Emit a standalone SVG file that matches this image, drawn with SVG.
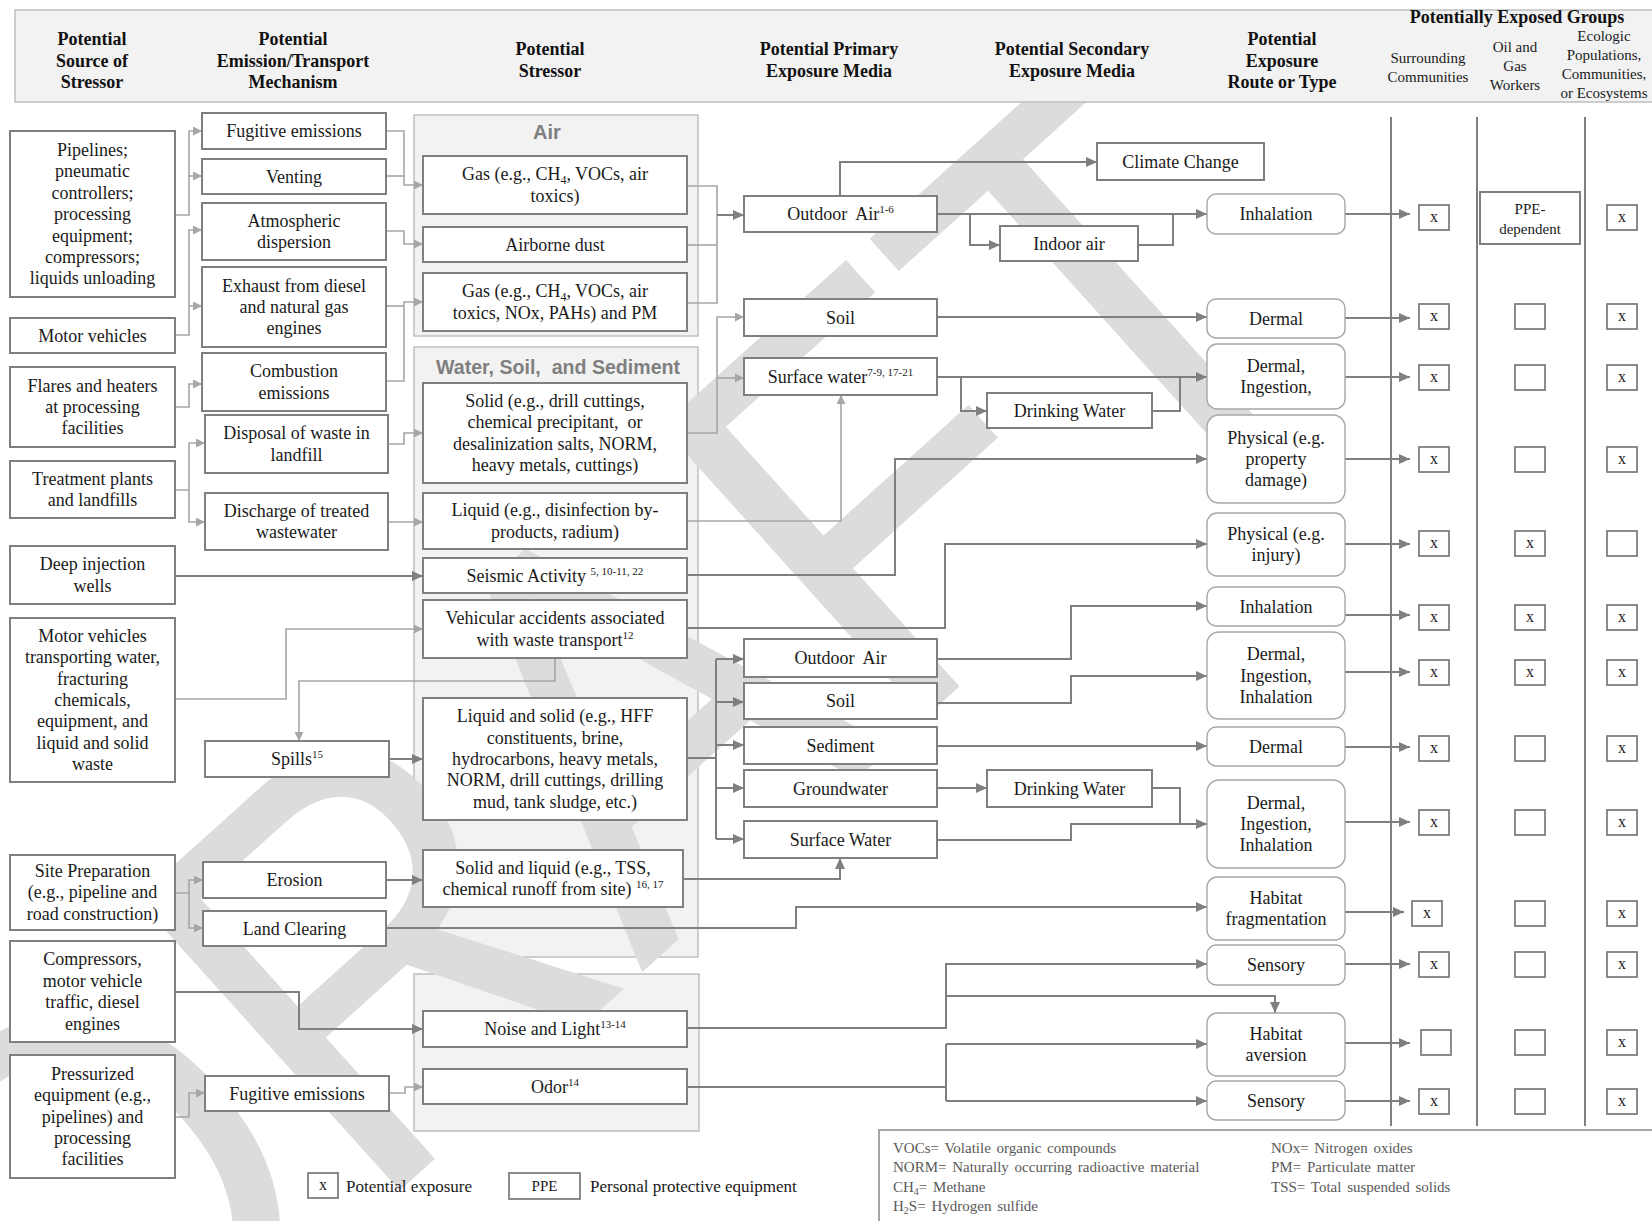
<svg xmlns="http://www.w3.org/2000/svg" width="1652" height="1221" viewBox="0 0 1652 1221">
<defs>
<style>
.box{fill:#fff;stroke:#7f7f7f;stroke-width:2}
.rb{fill:#fff;stroke:#a6a6a6;stroke-width:1.4}
.panel{fill:#f2f2f2;stroke:#bfbfbf;stroke-width:1.5}
.t{font-family:"Liberation Serif","Times New Roman",serif;font-size:18px;fill:#1a1a1a;text-anchor:middle}
.h{font-family:"Liberation Serif","Times New Roman",serif;font-size:18px;font-weight:bold;fill:#111;text-anchor:middle}
.hs{font-family:"Liberation Serif","Times New Roman",serif;font-size:15px;fill:#1a1a1a;text-anchor:middle}
.pt{font-family:"Liberation Sans",Arial,sans-serif;font-size:20px;font-weight:bold;fill:#7f7f7f;text-anchor:middle}
.cd{fill:none;stroke:#7f7f7f;stroke-width:2}
.cl{fill:none;stroke:#a6a6a6;stroke-width:1.6}
.ad{marker-end:url(#ad)}
.al{marker-end:url(#al)}
.chk{fill:#fff;stroke:#7f7f7f;stroke-width:1.8}
.x{font-family:"Liberation Serif","Times New Roman",serif;font-size:16px;fill:#1a1a1a;text-anchor:middle}
.ab{font-family:"Liberation Serif","Times New Roman",serif;font-size:15px;fill:#595959;word-spacing:2px}
.vl{stroke:#7f7f7f;stroke-width:2}
</style>
<marker id="ad" markerUnits="userSpaceOnUse" markerWidth="11" markerHeight="10" refX="11" refY="5" orient="auto"><path d="M0,0 L11,5 L0,10 z" fill="#7f7f7f"/></marker>
<marker id="al" markerUnits="userSpaceOnUse" markerWidth="9" markerHeight="9" refX="9" refY="4.5" orient="auto"><path d="M0,0 L9,4.5 L0,9 z" fill="#a6a6a6"/></marker>
</defs>
<rect width="1652" height="1221" fill="#fff"/>

<g id="panels">
<rect class="panel" x="414" y="115" width="284" height="221"/>
<rect class="panel" x="414" y="347" width="284" height="610"/>
<rect class="panel" x="414" y="974" width="285" height="157"/>
<text class="pt" x="547" y="139">Air</text>
<text class="pt" x="558" y="374" textLength="244" lengthAdjust="spacingAndGlyphs">Water, Soil,&#160; and Sediment</text>
<text class="pt" x="551" y="1000">Sensory</text>
</g>

<g id="watermark" transform="translate(96,1464) rotate(-42) scale(0.89,1)">
<text x="0" y="0" font-family="Liberation Sans, Arial, sans-serif" font-size="571" fill="#dcdcdc">DRAFT</text>
</g>

<g id="connectors">
<path class="cl al" d="M175,215 H189 V131 H202"/>
<path class="cl al" d="M189,176 H202"/>
<path class="cl al" d="M175,335 H189 V230 H202"/>
<path class="cl al" d="M189,306 H202"/>
<path class="cl al" d="M175,407 H189 V384 H202"/>
<path class="cl al" d="M175,490 H189 V443 H205"/>
<path class="cl al" d="M189,490 V522 H205"/>
<path class="cd ad" d="M175,576 H423"/>
<path class="cl al" d="M175,699 H286 V629 H423"/>
<path class="cl al" d="M555,658 V681 H299 V741"/>
<path class="cd ad" d="M389,759 H423"/>
<path class="cl al" d="M175,893 H189 V880 H203"/>
<path class="cl al" d="M189,893 V928 H203"/>
<path class="cd ad" d="M175,992 H299 V1029 H423"/>
<path class="cl al" d="M175,1117 H189 V1093 H205"/>
<path class="cl al" d="M389,1093 H405 V1087 H423"/>
<path class="cd ad" d="M386,880 H423"/>

<path class="cl al" d="M386,131 H404 V185 H423"/>
<path class="cl" d="M386,176 H404"/>
<path class="cl al" d="M386,231 H404 V244 H423"/>
<path class="cl al" d="M386,381 H404 V302 H423"/>
<path class="cl" d="M386,306 H404"/>
<path class="cl al" d="M388,444 H404 V433 H423"/>
<path class="cl al" d="M388,522 H423"/>

<path class="cl" d="M687,186 H717 V303 H687"/>
<path class="cl" d="M687,245 H717"/>
<path class="cd ad" d="M717,215 H744"/>
<path class="cl al" d="M687,433 H717 V317 H744"/>
<path class="cl al" d="M717,378 H744"/>
<path class="cl al" d="M687,521 H841 V395"/>
<path class="cd ad" d="M687,575 H895 V459 H1207"/>
<path class="cd ad" d="M687,628 H945 V544 H1207"/>
<path class="cd" d="M687,758 H716 M716,659 V839"/>
<path class="cd ad" d="M716,659 H744"/>
<path class="cd ad" d="M716,702 H744"/>
<path class="cd ad" d="M716,745 H744"/>
<path class="cd ad" d="M716,788 H744"/>
<path class="cd ad" d="M716,839 H744"/>
<path class="cd ad" d="M683,879 H840 V858"/>
<path class="cd ad" d="M386,928 H796 V907 H1207"/>
<path class="cd ad" d="M687,1028 H946 V964 H1207"/>
<path class="cd ad" d="M946,996 H1275 V1013"/>
<path class="cd" d="M687,1087 H946 M946,1044 V1101"/>
<path class="cd ad" d="M946,1044 H1207"/>
<path class="cd ad" d="M946,1101 H1207"/>

<path class="cd ad" d="M840,196 V162 H1097"/>
<path class="cd ad" d="M937,214 H1207"/>
<path class="cd ad" d="M970,214 V245 H1000"/>
<path class="cd" d="M1138,245 H1173 V214"/>
<path class="cd ad" d="M937,317 H1207"/>
<path class="cd ad" d="M937,377 H1207"/>
<path class="cd ad" d="M961,377 V411 H987"/>
<path class="cd" d="M1152,411 H1180 V377"/>
<path class="cd ad" d="M937,659 H1071 V606 H1207"/>
<path class="cd ad" d="M937,703 H1071 V676 H1207"/>
<path class="cd ad" d="M937,746 H1207"/>
<path class="cd ad" d="M937,788 H987"/>
<path class="cd ad" d="M1152,788 H1180 V824 H1207"/>
<path class="cd" d="M937,840 H1071 V824 H1180"/>

<path class="cd ad" d="M1345,214 H1410"/>
<path class="cd ad" d="M1345,318 H1410"/>
<path class="cd ad" d="M1345,377 H1410"/>
<path class="cd ad" d="M1345,459 H1410"/>
<path class="cd ad" d="M1345,544 H1410"/>
<path class="cd ad" d="M1345,615 H1410"/>
<path class="cd ad" d="M1345,672 H1410"/>
<path class="cd ad" d="M1345,747 H1410"/>
<path class="cd ad" d="M1345,822 H1410"/>
<path class="cd ad" d="M1345,912 H1404"/>
<path class="cd ad" d="M1345,964 H1410"/>
<path class="cd ad" d="M1345,1043 H1410"/>
<path class="cd ad" d="M1345,1101 H1410"/>
</g>

<g id="dividers">
<line class="vl" x1="1391" y1="117" x2="1391" y2="1126"/>
<line class="vl" x1="1477" y1="117" x2="1477" y2="1126"/>
<line class="vl" x1="1585" y1="117" x2="1585" y2="1126"/>
</g>

<g id="sources">
<g id="s1"><rect class="box" x="10" y="131" width="165" height="166"/><text class="t" x="92.5" y="156">Pipelines;<tspan x="92.5" dy="21.4">pneumatic</tspan><tspan x="92.5" dy="21.4">controllers;</tspan><tspan x="92.5" dy="21.4">processing</tspan><tspan x="92.5" dy="21.4">equipment;</tspan><tspan x="92.5" dy="21.4">compressors;</tspan><tspan x="92.5" dy="21.4">liquids unloading</tspan></text></g>
<g id="s2"><rect class="box" x="10" y="318" width="165" height="35"/><text class="t" x="92.5" y="341.5">Motor vehicles</text></g>
<g id="s3"><rect class="box" x="10" y="367" width="165" height="80"/><text class="t" x="92.5" y="391.6">Flares and heaters<tspan x="92.5" dy="21.4">at processing</tspan><tspan x="92.5" dy="21.4">facilities</tspan></text></g>
<g id="s4"><rect class="box" x="10" y="461" width="165" height="57"/><text class="t" x="92.5" y="484.8">Treatment plants<tspan x="92.5" dy="21.4">and landfills</tspan></text></g>
<g id="s5"><rect class="box" x="10" y="546" width="165" height="58"/><text class="t" x="92.5" y="570.3">Deep injection<tspan x="92.5" dy="21.4">wells</tspan></text></g>
<g id="s6"><rect class="box" x="10" y="618" width="165" height="164"/><text class="t" x="92.5" y="641.8">Motor vehicles<tspan x="92.5" dy="21.4">transporting water,</tspan><tspan x="92.5" dy="21.4">fracturing</tspan><tspan x="92.5" dy="21.4">chemicals,</tspan><tspan x="92.5" dy="21.4">equipment, and</tspan><tspan x="92.5" dy="21.4">liquid and solid</tspan><tspan x="92.5" dy="21.4">waste</tspan></text></g>
<g id="s7"><rect class="box" x="10" y="855" width="165" height="75"/><text class="t" x="92.5" y="877">Site Preparation<tspan x="92.5" dy="21.4">(e.g., pipeline and</tspan><tspan x="92.5" dy="21.4">road construction)</tspan></text></g>
<g id="s8"><rect class="box" x="10" y="941" width="165" height="101"/><text class="t" x="92.5" y="965.4">Compressors,<tspan x="92.5" dy="21.4">motor vehicle</tspan><tspan x="92.5" dy="21.4">traffic, diesel</tspan><tspan x="92.5" dy="21.4">engines</tspan></text></g>
<g id="s9"><rect class="box" x="10" y="1055" width="165" height="123"/><text class="t" x="92.5" y="1079.7">Pressurized<tspan x="92.5" dy="21.4">equipment (e.g.,</tspan><tspan x="92.5" dy="21.4">pipelines) and</tspan><tspan x="92.5" dy="21.4">processing</tspan><tspan x="92.5" dy="21.4">facilities</tspan></text></g>
</g>

<g id="mechanisms">
<g id="m1"><rect class="box" x="202" y="113" width="184" height="36"/><text class="t" x="294" y="137">Fugitive emissions</text></g>
<g id="m2"><rect class="box" x="202" y="159" width="184" height="35"/><text class="t" x="294" y="182.5">Venting</text></g>
<g id="m3"><rect class="box" x="202" y="203" width="184" height="57"/><text class="t" x="294" y="226.8">Atmospheric<tspan x="294" dy="21.4">dispersion</tspan></text></g>
<g id="m4"><rect class="box" x="202" y="267" width="184" height="80"/><text class="t" x="294" y="291.6">Exhaust from diesel<tspan x="294" dy="21.4">and natural gas</tspan><tspan x="294" dy="21.4">engines</tspan></text></g>
<g id="m5"><rect class="box" x="202" y="353" width="184" height="58"/><text class="t" x="294" y="377.3">Combustion<tspan x="294" dy="21.4">emissions</tspan></text></g>
<g id="m6"><rect class="box" x="205" y="415" width="183" height="58"/><text class="t" x="296.5" y="439.3">Disposal of waste in<tspan x="296.5" dy="21.4">landfill</tspan></text></g>
<g id="m7"><rect class="box" x="205" y="493" width="183" height="57"/><text class="t" x="296.5" y="516.8">Discharge of treated<tspan x="296.5" dy="21.4">wastewater</tspan></text></g>
<g id="m8"><rect class="box" x="205" y="741" width="184" height="36"/><text class="t" x="297" y="765">Spills<tspan font-size="11" dy="-7">15</tspan></text></g>
<g id="m9"><rect class="box" x="203" y="862" width="183" height="36"/><text class="t" x="294.5" y="886">Erosion</text></g>
<g id="m10"><rect class="box" x="203" y="911" width="183" height="35"/><text class="t" x="294.5" y="934.5">Land Clearing</text></g>
<g id="m11"><rect class="box" x="205" y="1076" width="184" height="35"/><text class="t" x="297" y="1099.5">Fugitive emissions</text></g>
</g>

<g id="stressors">
<g id="p1"><rect class="box" x="423" y="156" width="264" height="58"/><text class="t" x="555" y="180.3">Gas (e.g., CH<tspan font-size="12" dy="4">4</tspan><tspan dy="-4">, VOCs, air</tspan><tspan x="555" dy="21.4">toxics)</tspan></text></g>
<g id="p2"><rect class="box" x="423" y="227" width="264" height="35"/><text class="t" x="555" y="250.5">Airborne dust</text></g>
<g id="p3"><rect class="box" x="423" y="273" width="264" height="58"/><text class="t" x="555" y="297.3">Gas (e.g., CH<tspan font-size="12" dy="4">4</tspan><tspan dy="-4">, VOCs, air</tspan><tspan x="555" dy="21.4">toxics, NOx, PAHs) and PM</tspan></text></g>
<g id="p4"><rect class="box" x="423" y="383" width="264" height="100"/><text class="t" x="555" y="406.9">Solid (e.g., drill cuttings,<tspan x="555" dy="21.4">chemical precipitant,&#160; or</tspan><tspan x="555" dy="21.4">desalinization salts, NORM,</tspan><tspan x="555" dy="21.4">heavy metals, cuttings)</tspan></text></g>
<g id="p5"><rect class="box" x="423" y="493" width="264" height="56"/><text class="t" x="555" y="516.3">Liquid (e.g., disinfection by-<tspan x="555" dy="21.4">products, radium)</tspan></text></g>
<g id="p6"><rect class="box" x="423" y="558" width="264" height="35"/><text class="t" x="555" y="581.5">Seismic Activity <tspan font-size="11" dy="-7">5, 10-11, 22</tspan></text></g>
<g id="p7"><rect class="box" x="423" y="600" width="264" height="58"/><text class="t" x="555" y="624.3">Vehicular accidents associated<tspan x="555" dy="21.4">with waste transport</tspan><tspan font-size="11" dy="-7">12</tspan></text></g>
<g id="p8"><rect class="box" x="423" y="698" width="264" height="122"/><text class="t" x="555" y="722.2">Liquid and solid (e.g., HFF<tspan x="555" dy="21.4">constituents, brine,</tspan><tspan x="555" dy="21.4">hydrocarbons, heavy metals,</tspan><tspan x="555" dy="21.4">NORM, drill cuttings, drilling</tspan><tspan x="555" dy="21.4">mud, tank sludge, etc.)</tspan></text></g>
<g id="p9"><rect class="box" x="423" y="850" width="260" height="57"/><text class="t" x="553" y="873.8">Solid and liquid (e.g., TSS,<tspan x="553" dy="21.4">chemical runoff from site) </tspan><tspan font-size="11" dy="-7">16, 17</tspan></text></g>
<g id="p10"><rect class="box" x="423" y="1011" width="264" height="36"/><text class="t" x="555" y="1035">Noise and Light<tspan font-size="11" dy="-7">13-14</tspan></text></g>
<g id="p11"><rect class="box" x="423" y="1069" width="264" height="35"/><text class="t" x="555" y="1092.5">Odor<tspan font-size="11" dy="-7">14</tspan></text></g>
</g>

<g id="primary">
<g id="q1"><rect class="box" x="744" y="196" width="193" height="36"/><text class="t" x="840.5" y="220">Outdoor&#160; Air<tspan font-size="11" dy="-7">1-6</tspan></text></g>
<g id="q2"><rect class="box" x="744" y="299" width="193" height="37"/><text class="t" x="840.5" y="323.5">Soil</text></g>
<g id="q3"><rect class="box" x="744" y="358" width="193" height="37"/><text class="t" x="840.5" y="382.5">Surface water<tspan font-size="11" dy="-7">7-9, 17-21</tspan></text></g>
<g id="q4"><rect class="box" x="744" y="639" width="193" height="38"/><text class="t" x="840.5" y="664">Outdoor&#160; Air</text></g>
<g id="q5"><rect class="box" x="744" y="683" width="193" height="36"/><text class="t" x="840.5" y="707">Soil</text></g>
<g id="q6"><rect class="box" x="744" y="727" width="193" height="37"/><text class="t" x="840.5" y="751.5">Sediment</text></g>
<g id="q7"><rect class="box" x="744" y="770" width="193" height="37"/><text class="t" x="840.5" y="794.5">Groundwater</text></g>
<g id="q8"><rect class="box" x="744" y="821" width="193" height="37"/><text class="t" x="840.5" y="845.5">Surface Water</text></g>
</g>

<g id="secondary">
<g id="cc"><rect class="box" x="1097" y="143" width="167" height="37"/><text class="t" x="1180.5" y="167.5">Climate Change</text></g>
<g id="ia"><rect class="box" x="1000" y="226" width="138" height="35"/><text class="t" x="1069" y="249.5">Indoor air</text></g>
<g id="dw1"><rect class="box" x="987" y="393" width="165" height="35"/><text class="t" x="1069.5" y="416.5">Drinking Water</text></g>
<g id="dw2"><rect class="box" x="987" y="770" width="165" height="37"/><text class="t" x="1069.5" y="794.5">Drinking Water</text></g>
</g>

<g id="routes">
<g id="r1"><rect class="rb" x="1207" y="194" width="138" height="40" rx="9"/><text class="t" x="1276" y="220">Inhalation</text></g>
<g id="r2"><rect class="rb" x="1207" y="299" width="138" height="39" rx="9"/><text class="t" x="1276" y="324.5">Dermal</text></g>
<g id="r3"><rect class="rb" x="1207" y="344" width="138" height="65" rx="10"/><text class="t" x="1276" y="371.8">Dermal,<tspan x="1276" dy="21.4">Ingestion,</tspan></text></g>
<g id="r4"><rect class="rb" x="1207" y="415" width="138" height="88" rx="12"/><text class="t" x="1276" y="443.6">Physical (e.g.<tspan x="1276" dy="21.4">property</tspan><tspan x="1276" dy="21.4">damage)</tspan></text></g>
<g id="r5"><rect class="rb" x="1207" y="513" width="138" height="63" rx="10"/><text class="t" x="1276" y="539.8">Physical (e.g.<tspan x="1276" dy="21.4">injury)</tspan></text></g>
<g id="r6"><rect class="rb" x="1207" y="587" width="138" height="39" rx="9"/><text class="t" x="1276" y="612.5">Inhalation</text></g>
<g id="r7"><rect class="rb" x="1207" y="632" width="138" height="87" rx="12"/><text class="t" x="1276" y="660.1">Dermal,<tspan x="1276" dy="21.4">Ingestion,</tspan><tspan x="1276" dy="21.4">Inhalation</tspan></text></g>
<g id="r8"><rect class="rb" x="1207" y="727" width="138" height="39" rx="9"/><text class="t" x="1276" y="752.5">Dermal</text></g>
<g id="r9"><rect class="rb" x="1207" y="780" width="138" height="88" rx="12"/><text class="t" x="1276" y="808.6">Dermal,<tspan x="1276" dy="21.4">Ingestion,</tspan><tspan x="1276" dy="21.4">Inhalation</tspan></text></g>
<g id="r10"><rect class="rb" x="1207" y="877" width="138" height="63" rx="10"/><text class="t" x="1276" y="903.8">Habitat<tspan x="1276" dy="21.4">fragmentation</tspan></text></g>
<g id="r11"><rect class="rb" x="1207" y="945" width="138" height="40" rx="9"/><text class="t" x="1276" y="971">Sensory</text></g>
<g id="r12"><rect class="rb" x="1207" y="1013" width="138" height="63" rx="10"/><text class="t" x="1276" y="1039.8">Habitat<tspan x="1276" dy="21.4">aversion</tspan></text></g>
<g id="r13"><rect class="rb" x="1207" y="1081" width="138" height="39" rx="9"/><text class="t" x="1276" y="1106.5">Sensory</text></g>
</g>

<g id="groups">
<rect class="chk" x="1419" y="205" width="30" height="25"/><text class="x" x="1434" y="222">x</text>
<rect class="box" x="1480" y="192" width="100" height="52"/><text class="hs" x="1530" y="214">PPE-<tspan x="1530" dy="20">dependent</tspan></text>
<rect class="chk" x="1607" y="205" width="30" height="25"/><text class="x" x="1622" y="222">x</text>

<rect class="chk" x="1419" y="304" width="30" height="25"/><text class="x" x="1434" y="321">x</text>
<rect class="chk" x="1515" y="304" width="30" height="25"/>
<rect class="chk" x="1607" y="304" width="30" height="25"/><text class="x" x="1622" y="321">x</text>

<rect class="chk" x="1419" y="365" width="30" height="25"/><text class="x" x="1434" y="382">x</text>
<rect class="chk" x="1515" y="365" width="30" height="25"/>
<rect class="chk" x="1607" y="365" width="30" height="25"/><text class="x" x="1622" y="382">x</text>

<rect class="chk" x="1419" y="447" width="30" height="25"/><text class="x" x="1434" y="464">x</text>
<rect class="chk" x="1515" y="447" width="30" height="25"/>
<rect class="chk" x="1607" y="447" width="30" height="25"/><text class="x" x="1622" y="464">x</text>

<rect class="chk" x="1419" y="531" width="30" height="25"/><text class="x" x="1434" y="548">x</text>
<rect class="chk" x="1515" y="531" width="30" height="25"/><text class="x" x="1530" y="548">x</text>
<rect class="chk" x="1607" y="531" width="30" height="25"/>

<rect class="chk" x="1419" y="605" width="30" height="25"/><text class="x" x="1434" y="622">x</text>
<rect class="chk" x="1515" y="605" width="30" height="25"/><text class="x" x="1530" y="622">x</text>
<rect class="chk" x="1607" y="605" width="30" height="25"/><text class="x" x="1622" y="622">x</text>

<rect class="chk" x="1419" y="660" width="30" height="25"/><text class="x" x="1434" y="677">x</text>
<rect class="chk" x="1515" y="660" width="30" height="25"/><text class="x" x="1530" y="677">x</text>
<rect class="chk" x="1607" y="660" width="30" height="25"/><text class="x" x="1622" y="677">x</text>

<rect class="chk" x="1419" y="736" width="30" height="25"/><text class="x" x="1434" y="753">x</text>
<rect class="chk" x="1515" y="736" width="30" height="25"/>
<rect class="chk" x="1607" y="736" width="30" height="25"/><text class="x" x="1622" y="753">x</text>

<rect class="chk" x="1419" y="810" width="30" height="25"/><text class="x" x="1434" y="827">x</text>
<rect class="chk" x="1515" y="810" width="30" height="25"/>
<rect class="chk" x="1607" y="810" width="30" height="25"/><text class="x" x="1622" y="827">x</text>

<rect class="chk" x="1412" y="901" width="30" height="25"/><text class="x" x="1427" y="918">x</text>
<rect class="chk" x="1515" y="901" width="30" height="25"/>
<rect class="chk" x="1607" y="901" width="30" height="25"/><text class="x" x="1622" y="918">x</text>

<rect class="chk" x="1419" y="952" width="30" height="25"/><text class="x" x="1434" y="969">x</text>
<rect class="chk" x="1515" y="952" width="30" height="25"/>
<rect class="chk" x="1607" y="952" width="30" height="25"/><text class="x" x="1622" y="969">x</text>

<rect class="chk" x="1421" y="1030" width="30" height="25"/>
<rect class="chk" x="1515" y="1030" width="30" height="25"/>
<rect class="chk" x="1607" y="1030" width="30" height="25"/><text class="x" x="1622" y="1047">x</text>

<rect class="chk" x="1419" y="1089" width="30" height="25"/><text class="x" x="1434" y="1106">x</text>
<rect class="chk" x="1515" y="1089" width="30" height="25"/>
<rect class="chk" x="1607" y="1089" width="30" height="25"/><text class="x" x="1622" y="1106">x</text>
</g>

<g id="legend">
<rect class="chk" x="308" y="1173" width="30" height="25"/><text class="x" x="323" y="1190">x</text>
<text class="t" x="346" y="1192" style="text-anchor:start;font-size:17px">Potential exposure</text>
<rect class="chk" x="509" y="1173" width="71" height="26"/><text class="hs" x="544.5" y="1191">PPE</text>
<text class="t" x="590" y="1192" style="text-anchor:start;font-size:17px">Personal protective equipment</text>
</g>

<g id="abbreviations">
<rect x="879" y="1130" width="800" height="120" fill="#fff" stroke="#a6a6a6" stroke-width="2"/>
<text class="ab" x="893" y="1153">VOCs= Volatile organic compounds</text>
<text class="ab" x="893" y="1172">NORM= Naturally occurring radioactive material</text>
<text class="ab" x="893" y="1192">CH<tspan font-size="10" dy="3">4</tspan><tspan dy="-3">= Methane</tspan></text>
<text class="ab" x="893" y="1211">H<tspan font-size="10" dy="3">2</tspan><tspan dy="-3">S= Hydrogen sulfide</tspan></text>
<text class="ab" x="1271" y="1153">NOx= Nitrogen oxides</text>
<text class="ab" x="1271" y="1172">PM= Particulate matter</text>
<text class="ab" x="1271" y="1192">TSS= Total suspended solids</text>
</g>

<g id="header">
<rect x="15" y="10" width="1650" height="92" fill="#f2f2f2" stroke="#bfbfbf" stroke-width="1.5"/>
<text class="h" x="92" y="45">Potential<tspan x="92" dy="21.5">Source of</tspan><tspan x="92" dy="21.5">Stressor</tspan></text>
<text class="h" x="293" y="45">Potential<tspan x="293" dy="21.5">Emission/Transport</tspan><tspan x="293" dy="21.5">Mechanism</tspan></text>
<text class="h" x="550" y="55">Potential<tspan x="550" dy="21.5">Stressor</tspan></text>
<text class="h" x="829" y="55">Potential Primary<tspan x="829" dy="21.5">Exposure Media</tspan></text>
<text class="h" x="1072" y="55">Potential Secondary<tspan x="1072" dy="21.5">Exposure Media</tspan></text>
<text class="h" x="1282" y="45">Potential<tspan x="1282" dy="21.5">Exposure</tspan><tspan x="1282" dy="21.5">Route or Type</tspan></text>
<text class="h" x="1517" y="23">Potentially Exposed Groups</text>
<text class="hs" x="1428" y="63">Surrounding<tspan x="1428" dy="19">Communities</tspan></text>
<text class="hs" x="1515" y="52">Oil and<tspan x="1515" dy="19">Gas</tspan><tspan x="1515" dy="19">Workers</tspan></text>
<text class="hs" x="1604" y="41">Ecologic<tspan x="1604" dy="19">Populations,</tspan><tspan x="1604" dy="19">Communities,</tspan><tspan x="1604" dy="19">or Ecosystems</tspan></text>
</g>
</svg>
